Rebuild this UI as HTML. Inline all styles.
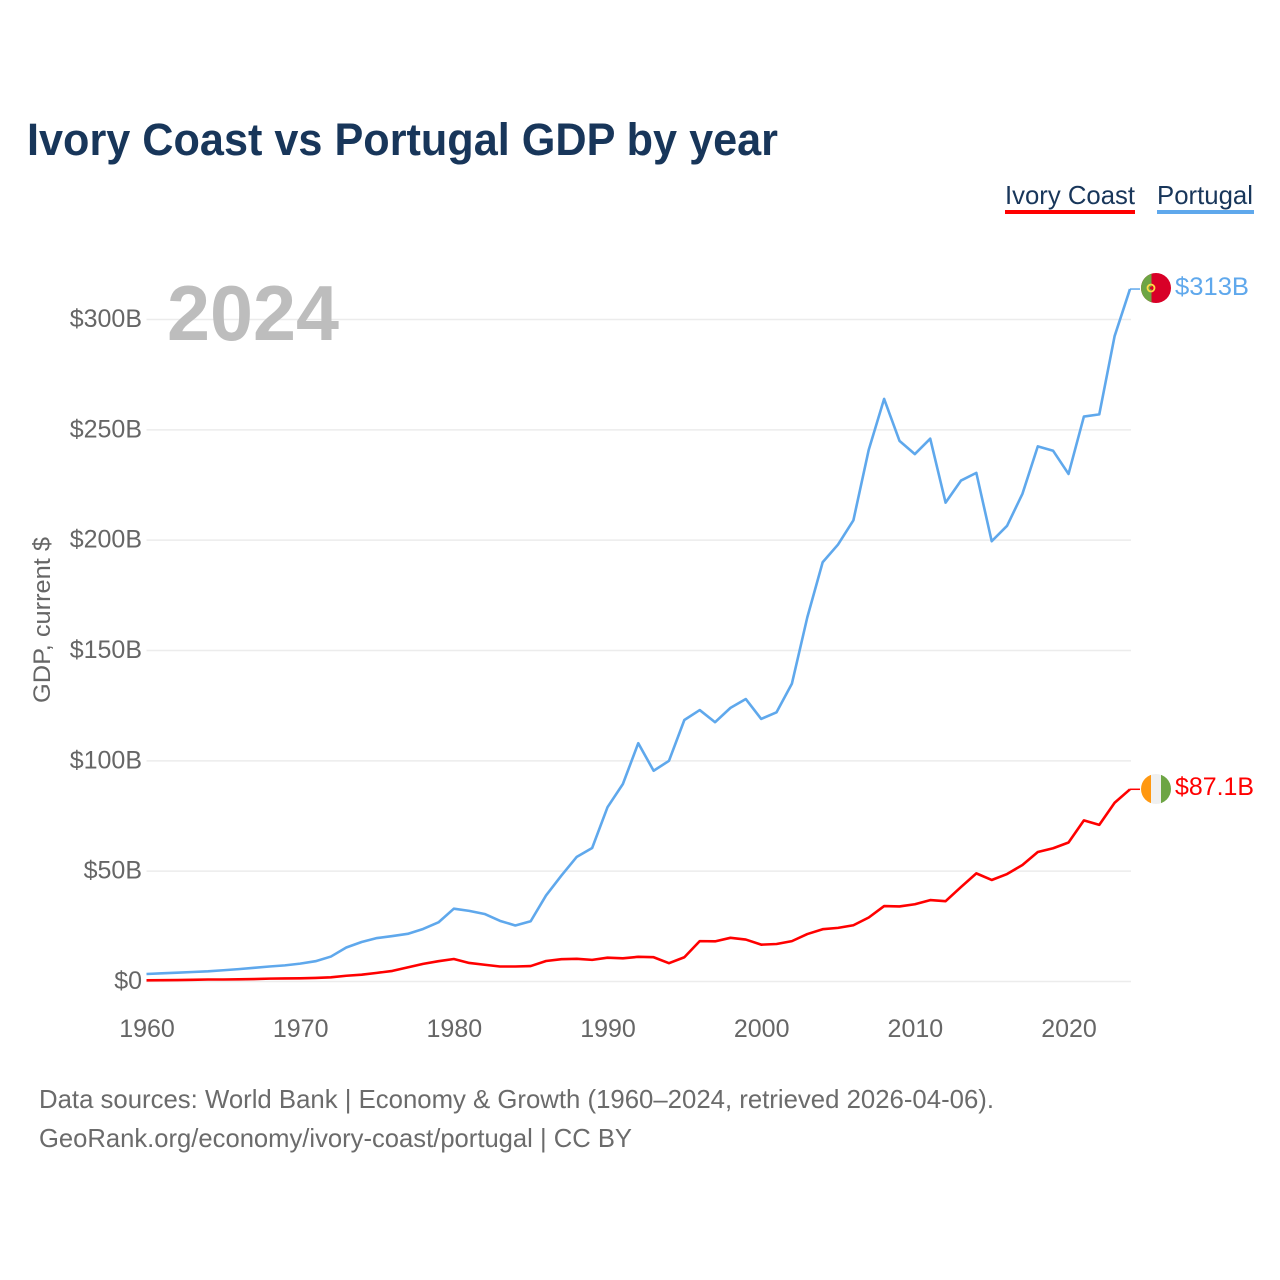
<!DOCTYPE html>
<html lang="en">
<head>
<meta charset="utf-8">
<title>Ivory Coast vs Portugal GDP by year</title>
<style>
html,body{margin:0;padding:0;background:#fff;}
svg{display:block;font-family:"Liberation Sans",sans-serif;}
</style>
</head>
<body>
<svg id="chart" xmlns="http://www.w3.org/2000/svg" width="1280" height="1280" viewBox="0 0 1280 1280">
  <defs>
    <clipPath id="clip-pt"><circle cx="1156" cy="288" r="15"/></clipPath>
    <clipPath id="clip-ci"><circle cx="1156" cy="789" r="15"/></clipPath>
  </defs>
  <text x="27" y="155" font-size="45" font-weight="700" fill="#18365a" textLength="751" lengthAdjust="spacingAndGlyphs">Ivory Coast vs Portugal GDP by year</text>

  <g>
    <g>
      <text x="1005" y="204" font-size="26" fill="#18365a" textLength="130" lengthAdjust="spacingAndGlyphs">Ivory Coast</text>
      <rect x="1005" y="210" width="130" height="4" fill="#ff0000"/>
    </g>
    <g>
      <text x="1157" y="204" font-size="26" fill="#18365a" textLength="96" lengthAdjust="spacingAndGlyphs">Portugal</text>
      <rect x="1157" y="210" width="97" height="4" fill="#5fa8ec"/>
    </g>
  </g>

  <g id="grid"></g>

  <text x="167" y="340" font-size="78" font-weight="700" fill="#bdbdbd" textLength="172" lengthAdjust="spacingAndGlyphs">2024</text>

  <g id="y-ticks"></g>
  <g id="x-ticks"></g>
  <text transform="translate(50,620) rotate(-90)" text-anchor="middle" font-size="24" fill="#666666" textLength="166" lengthAdjust="spacingAndGlyphs">GDP, current $</text>

  <g id="series"></g>

  <g clip-path="url(#clip-pt)">
    <rect x="1141" y="273" width="30" height="30" fill="#d80027"/>
    <rect x="1141" y="273" width="10.5" height="30" fill="#6da544"/>
    <circle cx="1151" cy="288" r="3.5" fill="none" stroke="#ffda44" stroke-width="1.8"/>
    <circle cx="1151" cy="288" r="1.2" fill="#d80027"/>
  </g>
  <g clip-path="url(#clip-ci)">
    <rect x="1141" y="774" width="10" height="30" fill="#ff9811"/>
    <rect x="1151" y="774" width="10" height="30" fill="#f0f0f0"/>
    <rect x="1161" y="774" width="10" height="30" fill="#6da544"/>
  </g>
  <text x="1175" y="295" font-size="25" fill="#5fa8ec" textLength="74" lengthAdjust="spacingAndGlyphs">$313B</text>
  <text x="1175" y="795" font-size="25" fill="#ff0000" textLength="79" lengthAdjust="spacingAndGlyphs">$87.1B</text>

  <g>
    <text x="39" y="1108" font-size="26" fill="#6b6b6b" textLength="955" lengthAdjust="spacingAndGlyphs">Data sources: World Bank | Economy &amp; Growth (1960–2024, retrieved 2026-04-06).</text>
    <text x="39" y="1147" font-size="26" fill="#6b6b6b" textLength="593" lengthAdjust="spacingAndGlyphs">GeoRank.org/economy/ivory-coast/portugal | CC BY</text>
  </g>
</svg>
<script>
const years = [1960,1961,1962,1963,1964,1965,1966,1967,1968,1969,1970,1971,1972,1973,1974,1975,1976,1977,1978,1979,1980,1981,1982,1983,1984,1985,1986,1987,1988,1989,1990,1991,1992,1993,1994,1995,1996,1997,1998,1999,2000,2001,2002,2003,2004,2005,2006,2007,2008,2009,2010,2011,2012,2013,2014,2015,2016,2017,2018,2019,2020,2021,2022,2023,2024];
const portugal = [3.4,3.7,4.0,4.3,4.6,5.1,5.6,6.2,6.8,7.3,8.1,9.2,11.3,15.4,17.9,19.7,20.6,21.6,23.8,26.8,33,32,30.6,27.5,25.4,27.3,39,48,56.5,60.5,79,89.5,108,95.5,100,118.5,123,117.5,124,128,119,122,135,165,190,198,209,241,264,245,239,246,217,227,230.5,199.5,206.5,221,242.5,240.5,230,256,257,292.5,313.8];
const ivoryCoast = [0.55,0.6,0.65,0.75,0.9,0.9,1,1.1,1.3,1.4,1.45,1.6,1.9,2.6,3.1,3.9,4.8,6.4,8,9.2,10.2,8.4,7.6,6.8,6.8,7,9.3,10.1,10.3,9.8,10.8,10.5,11.2,11,8.3,11,18.3,18.2,19.8,19,16.7,17,18.3,21.5,23.7,24.3,25.5,29,34.2,34,35,36.9,36.4,42.8,49,46,48.7,52.8,58.7,60.4,63,73,71,81,87.1];
const yTickValues = [0,50,100,150,200,250,300];
const yTickLabels = ["$0","$50B","$100B","$150B","$200B","$250B","$300B"];
const xTickValues = [1960,1970,1980,1990,2000,2010,2020];

const NS = "http://www.w3.org/2000/svg";
const plotLeft = 146.5, plotRight = 1130, gridRight = 1131, plotZero = 981.5, pxPerBillion = 2.2067;
const xScale = function (year) { return plotLeft + (year - 1960) * (plotRight - plotLeft) / 64; };
const yScale = function (value) { return plotZero - value * pxPerBillion; };

const gridGroup = document.getElementById("grid");
const yGroup = document.getElementById("y-ticks");
yTickValues.forEach(function (v, i) {
  const line = document.createElementNS(NS, "line");
  
  
  line.setAttribute("x1", plotLeft);
  line.setAttribute("x2", gridRight);
  line.setAttribute("y1", yScale(v));
  line.setAttribute("y2", yScale(v));
  line.setAttribute("stroke", "#ececec");
  line.setAttribute("stroke-width", "1.5");
  gridGroup.appendChild(line);

  const label = document.createElementNS(NS, "text");
  
  
  label.setAttribute("x", 142);
  label.setAttribute("y", yScale(v) + 7.5);
  label.setAttribute("text-anchor", "end");
  label.setAttribute("font-size", "25");
  label.setAttribute("fill", "#666666");
  label.textContent = yTickLabels[i];
  yGroup.appendChild(label);
});

const xGroup = document.getElementById("x-ticks");
xTickValues.forEach(function (year) {
  const label = document.createElementNS(NS, "text");
  
  
  label.setAttribute("x", xScale(year) + 0.5);
  label.setAttribute("y", 1037);
  label.setAttribute("text-anchor", "middle");
  label.setAttribute("font-size", "25");
  label.setAttribute("fill", "#666666");
  label.textContent = String(year);
  xGroup.appendChild(label);
});

const seriesGroup = document.getElementById("series");
function drawSeries(values, color, name) {
  const d = values.map(function (v, i) {
    return (i ? "L" : "M") + xScale(years[i]).toFixed(2) + " " + yScale(v).toFixed(2);
  }).join(" ");
  const path = document.createElementNS(NS, "path");
  
  
  path.setAttribute("d", d);
  path.setAttribute("fill", "none");
  path.setAttribute("stroke", color);
  path.setAttribute("stroke-width", "2.6");
  path.setAttribute("stroke-linejoin", "round");
  seriesGroup.appendChild(path);

  const last = values.length - 1;
  const leader = document.createElementNS(NS, "line");
  
  
  leader.setAttribute("x1", xScale(years[last]));
  leader.setAttribute("x2", xScale(years[last]) + 10);
  leader.setAttribute("y1", yScale(values[last]));
  leader.setAttribute("y2", yScale(values[last]));
  leader.setAttribute("stroke", color);
  leader.setAttribute("stroke-width", "1.5");
  seriesGroup.appendChild(leader);
}
drawSeries(portugal, "#5fa8ec", "portugal-line");
drawSeries(ivoryCoast, "#ff0000", "ivory-coast-line");
</script>
</body>
</html>
